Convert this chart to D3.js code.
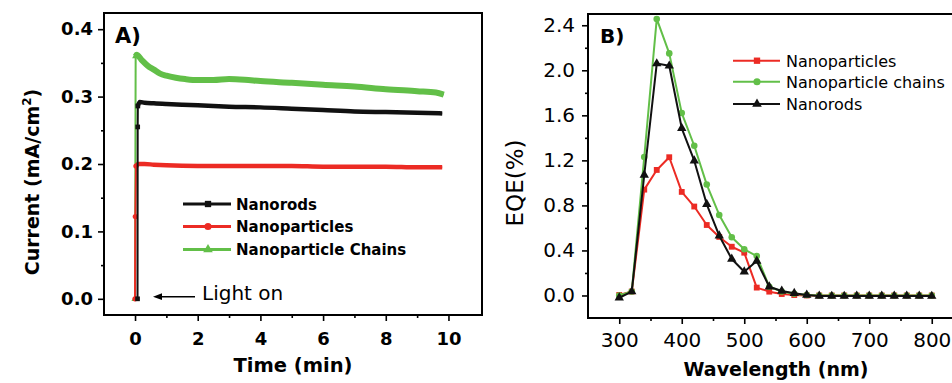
<!DOCTYPE html>
<html><head><meta charset="utf-8">
<script src="https://cdn.jsdelivr.net/npm/d3@7"></script>
<style>html,body{margin:0;padding:0;background:#fff;} svg{display:block;}</style>
</head><body><svg id="chart" width="952" height="383"></svg>
<script>
// ---------- Panel A data: photocurrent vs time ----------
const timeRods = [0.08, 0.085, 0.09, 0.15, 0.3, 0.6, 1, 1.5, 2, 2.5, 3, 4, 5, 6, 7, 8, 9, 9.8];
const currentRods = [0.0, 0.255, 0.286, 0.292, 0.291, 0.29, 0.289, 0.288, 0.287, 0.286, 0.285, 0.284, 0.282, 0.280, 0.278, 0.277, 0.276, 0.275];
const timeParticles = [0.0, 0.01, 0.03, 0.1, 0.3, 0.6, 1, 2, 3, 4, 5, 6, 7, 8, 9, 9.8];
const currentParticles = [0.0, 0.122, 0.197, 0.2, 0.2, 0.199, 0.198, 0.197, 0.197, 0.197, 0.197, 0.196, 0.196, 0.196, 0.195, 0.195];
const timeChains = [0.0, 0.02, 0.05, 0.2, 0.4, 0.6, 0.8, 1.0, 1.3, 1.6, 2.0, 2.5, 3.0, 3.5, 4.0, 5.0, 6.0, 7.0, 8.0, 9.0, 9.6, 9.85];
const currentChains = [0.0, 0.36, 0.362, 0.355, 0.346, 0.34, 0.334, 0.331, 0.328, 0.326, 0.3245, 0.3245, 0.326, 0.325, 0.323, 0.3205, 0.3175, 0.315, 0.311, 0.308, 0.306, 0.303];
const seriesNamesA = ["Nanorods", "Nanoparticles", "Nanoparticle Chains"];
const xTicksA = [0, 2, 4, 6, 8, 10];
const xMinorA = [1, 3, 5, 7, 9];
const yTicksA = [0.0, 0.1, 0.2, 0.3, 0.4];
const yMinorA = [0.05, 0.15, 0.25, 0.35];

// ---------- Panel B data: EQE vs wavelength ----------
const wavelength = [300, 320, 340, 360, 380, 400, 420, 440, 460, 480, 500, 520, 540, 560, 580, 600, 620, 640, 660, 680, 700, 720, 740, 760, 780, 800];
const eqeParticles = [0.005, 0.035, 0.94, 1.115, 1.228, 0.92, 0.79, 0.626, 0.52, 0.433, 0.38, 0.07, 0.034, 0.013, 0.004, 0.0, 0.0, 0.0, 0.0, 0.0, 0.0, 0.0, 0.0, 0.0, 0.0, 0.0];
const eqeChains = [0.0, 0.035, 1.23, 2.456, 2.15, 1.62, 1.33, 0.985, 0.715, 0.517, 0.41, 0.35, 0.078, 0.035, 0.015, 0.005, 0.0, 0.0, 0.0, 0.0, 0.0, 0.0, 0.0, 0.0, 0.0, 0.0];
const eqeRods = [-0.02, 0.034, 1.07, 2.06, 2.04, 1.485, 1.197, 0.81, 0.531, 0.324, 0.211, 0.306, 0.078, 0.04, 0.02, 0.004, -0.004, -0.005, -0.005, -0.004, -0.004, -0.004, -0.004, -0.004, -0.004, -0.005];
const seriesNamesB = ["Nanoparticles", "Nanoparticle chains", "Nanorods"];
const xTicksB = [300, 400, 500, 600, 700, 800];
const xMinorB = [350, 450, 550, 650, 750];
const yTicksB = [0.0, 0.4, 0.8, 1.2, 1.6, 2.0, 2.4];
const yMinorB = [0.2, 0.6, 1.0, 1.4, 1.8, 2.2];

const RED = "#ec2b24", GREEN = "#62bf48", BLACK = "#111111";
const FONT = "DejaVu Sans";
const svg = d3.select("#chart");

function styleAxis(g, size, weight) {
  g.select(".domain").remove();
  g.attr("font-family", FONT).attr("font-size", size).attr("font-weight", weight);
  g.selectAll("line").attr("stroke", "#000").attr("stroke-width", 1.6);
  g.selectAll("text").attr("fill", "#000");
}

// ================= Panel A =================
const xA = d3.scaleLinear().domain([-0.99, 11.07]).range([104, 482]);
const yA = d3.scaleLinear().domain([-0.024, 0.424]).range([315, 13]);
const gA = svg.append("g");

gA.append("g").attr("transform", "translate(0,315)")
  .call(d3.axisBottom(xA).tickValues(xTicksA).tickFormat(d3.format("d")).tickSize(6).tickPadding(11))
  .call(g => styleAxis(g, 18, "bold"));
gA.append("g").attr("transform", "translate(0,315)")
  .call(d3.axisBottom(xA).tickValues(xMinorA).tickFormat("").tickSize(3))
  .call(g => styleAxis(g, 18, "bold"));
gA.append("g").attr("transform", "translate(104,0)")
  .call(d3.axisLeft(yA).tickValues(yTicksA).tickFormat(d3.format(".1f")).tickSize(6).tickPadding(5))
  .call(g => styleAxis(g, 18, "bold"));
gA.append("g").attr("transform", "translate(104,0)")
  .call(d3.axisLeft(yA).tickValues(yMinorA).tickFormat("").tickSize(3))
  .call(g => styleAxis(g, 18, "bold"));
gA.append("rect").attr("x", 104).attr("y", 13).attr("width", 378).attr("height", 302)
  .attr("fill", "none").attr("stroke", "#000").attr("stroke-width", 2);

const seriesA = [
  {name: seriesNamesA[0], t: timeRods, v: currentRods, color: BLACK, band: 4.5, rise: 2, sym: d3.symbolSquare},
  {name: seriesNamesA[1], t: timeParticles, v: currentParticles, color: RED, band: 4.5, rise: 2, sym: d3.symbolCircle},
  {name: seriesNamesA[2], t: timeChains, v: currentChains, color: GREEN, band: 6, rise: 1, sym: d3.symbolTriangle}
];
const lineA = d3.line().x(d => xA(d[0])).y(d => yA(d[1]));
const lineAsmooth = d3.line().x(d => xA(d[0])).y(d => yA(d[1])).curve(d3.curveMonotoneX);
const drawOrderA = [seriesA[2], seriesA[1], seriesA[0]];
drawOrderA.forEach(s => {
  const pts = s.t.map((t, i) => [t, s.v[i]]);
  gA.append("path").attr("d", lineA(pts)).attr("fill", "none").attr("stroke", s.color).attr("stroke-width", 2);
  gA.append("path").attr("d", lineAsmooth(pts.slice(s.rise))).attr("fill", "none")
    .attr("stroke", s.color).attr("stroke-width", s.band).attr("stroke-linejoin", "round");
  gA.selectAll(null).data(pts.slice(0, s.rise + 1)).enter().append("path")
    .attr("transform", d => `translate(${xA(d[0])},${yA(d[1])})`)
    .attr("d", d3.symbol(s.sym, 22)()).attr("fill", s.color);
});

// label A
gA.append("text").attr("x", 115).attr("y", 43).text("A)")
  .attr("font-family", FONT).attr("font-size", 21).attr("font-weight", "bold");
// axis titles A
gA.append("text").attr("x", 293).attr("y", 372).attr("text-anchor", "middle").text("Time (min)")
  .attr("font-family", FONT).attr("font-size", 19.5).attr("font-weight", "bold");
const yTitleA = gA.append("text").attr("transform", "translate(39,182) rotate(-90)").attr("text-anchor", "middle")
  .attr("font-family", FONT).attr("font-size", 19).attr("font-weight", "bold");
yTitleA.append("tspan").text("Current (mA/cm");
yTitleA.append("tspan").attr("font-size", 12).attr("dy", -8).text("2");
yTitleA.append("tspan").attr("dy", 8).text(")");

// legend A
const legA = gA.append("g");
[seriesA[0], seriesA[1], seriesA[2]].forEach((s, i) => {
  const yy = [204, 226.5, 249.5][i];
  legA.append("line").attr("x1", 183).attr("x2", 231).attr("y1", yy).attr("y2", yy)
    .attr("stroke", s.color).attr("stroke-width", 3);
  legA.append("path").attr("transform", `translate(208,${yy})`).attr("d", d3.symbol(s.sym, 40)()).attr("fill", s.color);
  legA.append("text").attr("x", 236).attr("y", yy + 5.5).text(s.name)
    .attr("font-family", FONT).attr("font-size", 15).attr("font-weight", "bold");
});

// Light on annotation
gA.append("line").attr("x1", 195).attr("x2", 159).attr("y1", 296.7).attr("y2", 296.7).attr("stroke", "#000").attr("stroke-width", 1.5);
gA.append("path").attr("d", "M153,296.7 L162,293.3 L162,300.1 Z").attr("fill", "#000");
gA.append("text").attr("x", 202).attr("y", 300).text("Light on")
  .attr("font-family", FONT).attr("font-size", 20);

// ================= Panel B =================
const xB = d3.scaleLinear().domain([250, 850]).range([588, 963]);
const yB = d3.scaleLinear().domain([-0.2, 2.5]).range([318, 14]);
const gB = svg.append("g");

gB.append("g").attr("transform", "translate(0,318)")
  .call(d3.axisBottom(xB).tickValues(xTicksB).tickFormat(d3.format("d")).tickSize(6).tickPadding(9))
  .call(g => styleAxis(g, 20, "normal"));
gB.append("g").attr("transform", "translate(0,318)")
  .call(d3.axisBottom(xB).tickValues(xMinorB).tickFormat("").tickSize(3))
  .call(g => styleAxis(g, 20, "normal"));
gB.append("g").attr("transform", "translate(588,0)")
  .call(d3.axisLeft(yB).tickValues(yTicksB).tickFormat(d3.format(".1f")).tickSize(6).tickPadding(7))
  .call(g => styleAxis(g, 20, "normal"));
gB.append("g").attr("transform", "translate(588,0)")
  .call(d3.axisLeft(yB).tickValues(yMinorB).tickFormat("").tickSize(3))
  .call(g => styleAxis(g, 20, "normal"));
gB.append("rect").attr("x", 588).attr("y", 14).attr("width", 375).attr("height", 304)
  .attr("fill", "none").attr("stroke", "#000").attr("stroke-width", 2);

const seriesB = [
  {name: seriesNamesB[0], v: eqeParticles, color: RED, sym: d3.symbolSquare, size: 34},
  {name: seriesNamesB[1], v: eqeChains, color: GREEN, sym: d3.symbolCircle, size: 34},
  {name: seriesNamesB[2], v: eqeRods, color: BLACK, sym: d3.symbolTriangle, size: 38}
];
const lineB = d3.line().x((d, i) => xB(wavelength[i])).y(d => yB(d));
seriesB.forEach(s => {
  gB.append("path").attr("d", lineB(s.v)).attr("fill", "none").attr("stroke", s.color)
    .attr("stroke-width", 2).attr("stroke-linejoin", "round");
  gB.selectAll(null).data(s.v).enter().append("path")
    .attr("transform", (d, i) => `translate(${xB(wavelength[i])},${yB(d)})`)
    .attr("d", d3.symbol(s.sym, s.size)()).attr("fill", s.color);
});

gB.append("text").attr("x", 600).attr("y", 43).text("B)")
  .attr("font-family", FONT).attr("font-size", 20).attr("font-weight", "bold");
gB.append("text").attr("x", 776).attr("y", 376).attr("text-anchor", "middle").text("Wavelength (nm)")
  .attr("font-family", FONT).attr("font-size", 19).attr("font-weight", "bold");
gB.append("text").attr("transform", "translate(523,183) rotate(-90)").attr("text-anchor", "middle").text("EQE(%)")
  .attr("font-family", FONT).attr("font-size", 23);

const legB = gB.append("g");
seriesB.forEach((s, i) => {
  const yy = [60.7, 81.7, 104][i];
  legB.append("line").attr("x1", 733).attr("x2", 780).attr("y1", yy).attr("y2", yy)
    .attr("stroke", s.color).attr("stroke-width", 2);
  legB.append("path").attr("transform", `translate(757,${yy})`).attr("d", d3.symbol(s.sym, 40)()).attr("fill", s.color);
  legB.append("text").attr("x", 786).attr("y", yy + 6).text(s.name)
    .attr("font-family", FONT).attr("font-size", 16);
});
</script>
</body></html>
